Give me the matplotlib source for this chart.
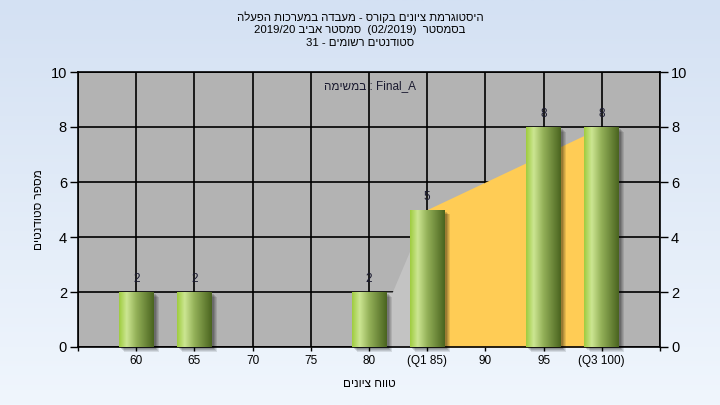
import re
import numpy as np
import matplotlib
matplotlib.use("Agg")
import matplotlib.pyplot as plt
from matplotlib.colors import LinearSegmentedColormap, to_rgb
from matplotlib.patches import Rectangle

plt.rcParams['font.family'] = ['Liberation Sans', 'DejaVu Sans']

# ---------------- data ----------------
grades = [60, 65, 70, 75, 80, 85, 90, 95, 100]
counts = [2, 2, 0, 0, 2, 5, 0, 8, 8]
tick_labels = ['60', '65', '70', '75', '80', '(Q1 85)', '90', '95', '(Q3 100)']
# quartile band (Q1..Q3) and lead-in area
band_x = [85, 100]
band_y = [5, 8]
lead_x = [80, 82, 85]
lead_y = [2, 2, 5]

title_lines = [
    "היסטוגרמת ציונים בקורס - מעבדה במערכות הפעלה",
    "בסמסטר  (02/2019)  סמסטר אביב 2019/20",
    "סטודנטים רשומים - 31",
]
legend_text = "Final_A : במשימה"
x_label = "טווח ציונים"
y_label = "מספר סטודנטים"


def rtl(s):
    """Convert a logical-order RTL string to visual order for LTR rendering."""
    toks = re.findall(r'[A-Za-z0-9_]+(?:[ ./_:][A-Za-z0-9_]+)*|.', s)
    mirror = {'(': ')', ')': '('}
    return ''.join(mirror.get(t, t) for t in reversed(toks))


fig = plt.figure(figsize=(7.2, 4.05), dpi=100)

# figure background gradient
bg = fig.add_axes([0, 0, 1, 1], zorder=-10)
top_c = np.array(to_rgb('#d4e1f3'))
bot_c = np.array(to_rgb('#f0f6fd'))
t = np.linspace(0, 1, 256)[:, None]
grad_bg = (top_c * (1 - t) + bot_c * t)[:, None, :]
bg.imshow(grad_bg, extent=[0, 1, 0, 1], aspect='auto')
bg.set_axis_off()

ax = fig.add_axes([78 / 720, 1 - 347 / 405, 582 / 720, 275 / 405])
ax.set_facecolor('#b3b3b3')

# areas
ax.fill_between(lead_x, 0, lead_y, color='#c3c3c3', lw=0, zorder=2)
ax.fill_between(band_x, 0, band_y, color='#ffcc55', lw=0, zorder=2)

# bars with cylinder gradient
cmap = LinearSegmentedColormap.from_list(
    'cyl', [(0.0, '#9fcc3f'), (0.22, '#cce692'), (0.5, '#93b058'), (1.0, '#4a641f')])
grad = np.linspace(0, 1, 200)[None, :]
width = 3
bars = ax.bar(grades, counts, width=width, color='none', edgecolor='none', zorder=4)
for b, h in zip(bars, counts):
    if h <= 0:
        continue
    x0 = b.get_x()
    # shadow
    for k, a in enumerate([0.10, 0.10, 0.12, 0.15]):
        off = 0.45 - k * 0.09
        ax.add_patch(Rectangle((x0 + off, -0.18 + k * 0.03), width, h,
                               facecolor='black', alpha=a, lw=0, zorder=3,
                               clip_on=False))
    im = ax.imshow(grad, cmap=cmap, extent=[x0, x0 + width, 0, h],
                   aspect='auto', zorder=4, interpolation='bilinear')
    im.set_clip_path(b)
    ax.text(b.get_x() + width / 2, h + 0.25, str(h), ha='center', va='bottom',
            fontsize=8.5, color='#1a1a30', zorder=6)

ax.set_xlim(55, 105)
ax.set_ylim(0, 10)
ax.set_xticks(range(55, 106, 5))
ax.set_xticklabels([''] + tick_labels + [''], fontsize=8.5)
ax.set_yticks(range(0, 11, 2))
ax.tick_params(axis='y', labelsize=10.5, length=6, width=1, right=True,
               labelright=True, colors='black', pad=2)
ax.tick_params(axis='x', length=3, width=1, pad=3)
ax.grid(True, color='black', lw=1.2)
ax.set_axisbelow(True)
for sp in ax.spines.values():
    sp.set_color('black')
    sp.set_linewidth(1.2)

ax.set_xlabel(rtl(x_label), fontsize=8.5, labelpad=8)
ax.set_ylabel(rtl(y_label), fontsize=8.5, labelpad=4)

ax.text(0.502, 0.949, rtl(legend_text), transform=ax.transAxes, ha='center',
        va='center', fontsize=8.5, color='#1a1a30', zorder=7)

for i, line in enumerate(title_lines):
    fig.text(0.5, 1 - (17 + 13 * i) / 405, rtl(line), ha='center', va='center',
             fontsize=8.2, color='black')

fig.savefig('out.png', dpi=100)
